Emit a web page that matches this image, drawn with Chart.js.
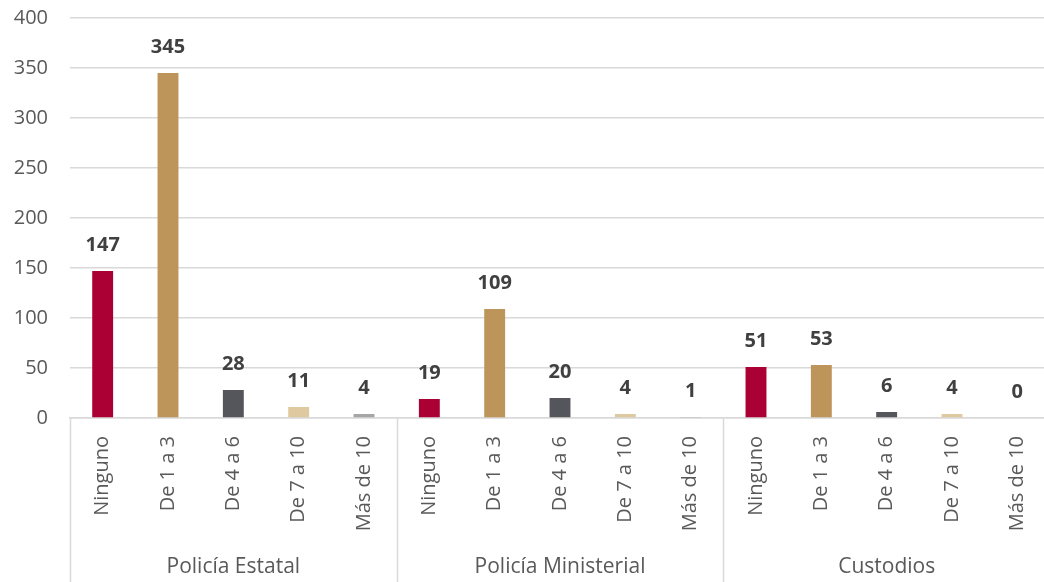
<!DOCTYPE html>
<html lang="es">
<head>
<meta charset="utf-8">
<title>Detenciones por corporación</title>
<script src="https://cdn.jsdelivr.net/npm/chart.js@4.4.1/dist/chart.umd.min.js"></script>
<style>
  html, body { margin: 0; padding: 0; background: #fff; overflow: hidden; }
  #wrap { width: 1050px; height: 582px; position: relative; }
</style>
</head>
<body>
<div id="wrap"><canvas id="chart"></canvas></div>
<script>
const categories = ['Ninguno', 'De 1 a 3', 'De 4 a 6', 'De 7 a 10', 'Más de 10'];
const groups = ['Policía Estatal', 'Policía Ministerial', 'Custodios'];
const policiaEstatal = [147, 345, 28, 11, 4];
const policiaMinisterial = [19, 109, 20, 4, 1];
const custodios = [51, 53, 6, 4, 0];
const yTicks = [0, 50, 100, 150, 200, 250, 300, 350, 400];

const colors = ['#ab0033', '#bd955b', '#54565b', '#dfc9a0', '#a6a6a6'];
const FONT = '"Open Sans", "Noto Sans", sans-serif';

const values = [...policiaEstatal, ...policiaMinisterial, ...custodios];
const labels = groups.flatMap(() => categories);
const barColors = groups.flatMap(() => colors);

// value above every bar
const valueLabels = {
  id: 'valueLabels',
  afterDatasetsDraw(chart) {
    const ctx = chart.ctx;
    const meta = chart.getDatasetMeta(0);
    ctx.save();
    ctx.font = 'bold 20px ' + FONT;
    ctx.fillStyle = '#404040';
    ctx.textAlign = 'center';
    ctx.textBaseline = 'middle';
    meta.data.forEach((bar, i) => {
      ctx.fillText(String(values[i]), bar.x, bar.y - 26);
    });
    ctx.restore();
  }
};

// second level of the category axis: separators and group names
const groupAxis = {
  id: 'groupAxis',
  afterDraw(chart) {
    const ctx = chart.ctx;
    const area = chart.chartArea;
    const x = chart.scales.x;
    const step = (x.right - x.left) / groups.length;
    ctx.save();
    ctx.strokeStyle = '#d9d9d9';
    ctx.lineWidth = 1.5;
    for (let k = 0; k <= groups.length; k++) {
      const px = Math.round(x.left + k * step) + 0.5;
      ctx.beginPath();
      ctx.moveTo(px, area.bottom);
      ctx.lineTo(px, chart.height);
      ctx.stroke();
    }
    ctx.font = '21px ' + FONT;
    ctx.fillStyle = '#595959';
    ctx.textAlign = 'center';
    ctx.textBaseline = 'middle';
    groups.forEach((g, k) => {
      ctx.fillText(g, x.left + (k + 0.5) * step, 567);
    });
    ctx.restore();
  }
};

new Chart(document.getElementById('chart'), {
  type: 'bar',
  data: {
    labels,
    datasets: [{
      data: values,
      backgroundColor: barColors,
      categoryPercentage: 1,
      barPercentage: 0.32
    }]
  },
  options: {
    responsive: true,
    maintainAspectRatio: false,
    animation: false,
    layout: { padding: { top: 18, left: 0, right: 0, bottom: 0 } },
    plugins: {
      legend: { display: false },
      tooltip: { enabled: false }
    },
    scales: {
      x: {
        grid: { display: false },
        border: { display: true, color: '#d9d9d9', width: 1.5 },
        ticks: {
          autoSkip: false,
          maxRotation: 90,
          minRotation: 90,
          padding: 10,
          color: '#595959',
          font: { family: FONT, size: 20 }
        },
        afterFit(scale) {
          scale.height = 164;
          scale.paddingLeft = 0;
          scale.paddingRight = 0;
        }
      },
      y: {
        min: 0,
        max: 400,
        afterBuildTicks(scale) { scale.ticks = yTicks.map(v => ({ value: v })); },
        grid: { color: '#d9d9d9', lineWidth: 1.5, drawTicks: false },
        border: { display: false },
        ticks: {
          padding: 22,
          color: '#595959',
          font: { family: FONT, size: 20 }
        },
        afterFit(scale) {
          scale.width = 70;
          scale.paddingTop = 0;
          scale.paddingBottom = 0;
        }
      }
    }
  },
  plugins: [valueLabels, groupAxis]
});
</script>
</body>
</html>
